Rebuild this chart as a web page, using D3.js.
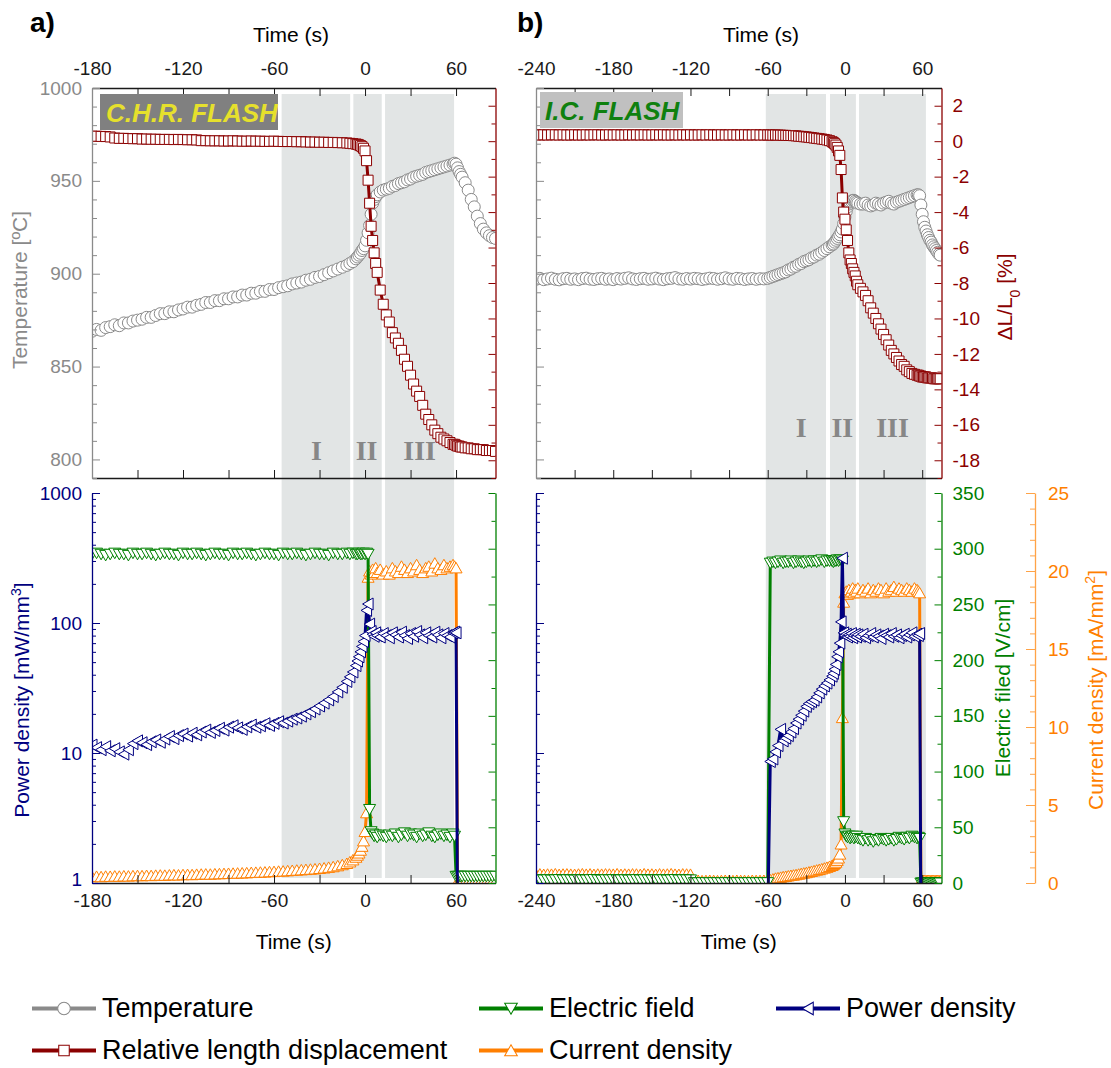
<!DOCTYPE html>
<html>
<head>
<meta charset="utf-8">
<script src="https://cdn.jsdelivr.net/npm/d3@7"></script>
<style>
  body { margin: 0; background: #fff; }
</style>
</head>
<body>
<div id="chart"></div>
<script>
///////////////////////////
// DATA
///////////////////////////

// panel a) C.H.R. flash - sample times (s)
const tA = [
    -180, -177, -174, -171, -168, -165, -162, -159, -156, -153,
    -150, -147, -144, -141, -138, -135, -132, -129, -126, -123,
    -120, -117, -114, -111, -108, -105, -102, -99, -96, -93,
    -90, -87, -84, -81, -78, -75, -72, -69, -66, -63,
    -60, -57, -54, -51, -48, -45, -42, -39, -36, -33,
    -30, -27, -24, -21, -18, -15, -12,
    -10, -8, -6, -5, -4, -3, -2, -1, 0, 1, 2, 3, 4, 5, 6, 7, 8, 10, 12,
    14, 16, 18, 20, 22, 24, 26, 28, 30, 32, 34, 36, 38, 40, 42, 44, 46, 48, 50, 52, 54, 56, 58,
    59, 60, 61, 62, 63, 64, 66, 68, 70, 72, 74, 76, 78, 80, 82, 84, 86
];
const tempA = [
    869, 870, 869.5, 871, 871.5, 872.5, 872, 873.5, 873.5, 874.5,
    875, 875.5, 876.5, 876.5, 877.5, 878.5, 878.5, 879.5, 879.5, 880.5,
    881, 882, 882, 883, 883.5, 884.5, 884.5, 885.5, 885.5, 886.5,
    886.5, 887.5, 887.5, 888.5, 888.5, 889.5, 889.5, 890.5, 890.5, 891.5,
    891.5, 892.5, 893, 893.5, 894.5, 895, 895.5, 896.5, 897, 898,
    898.5, 899.5, 900.5, 901.5, 902.5, 903.5, 904.5,
    905.5, 906.5, 908, 909, 910, 911, 912.5, 913.5, 915, 918, 922, 926, 932, 938, 940, 941.5, 942.5, 944, 945,
    945.5, 946, 947, 947.5, 948.5, 949, 949.5, 950.5, 951, 952, 952.5, 953, 953.5, 954.5, 955, 955.5, 956, 956.5, 957, 957.5, 958, 958.5, 959,
    959.5, 959, 957, 955, 953.5, 952, 949, 945, 940, 936, 931, 927, 924, 922, 920.5, 919.5, 919
];
const dlA = [
    0.28, 0.28, 0.27, 0.26, 0.24, 0.18, 0.16, 0.16, 0.15, 0.14,
    0.14, 0.12, 0.12, 0.11, 0.11, 0.1, 0.1, 0.1, 0.09, 0.1,
    0.09, 0.08, 0.08, 0.07, 0.03, 0.03, 0.02, 0.02, 0.02, 0.01,
    0.01, 0.02, 0.01, 0, 0, 0.01, 0, 0, -0.01, -0.01,
    0, -0.01, -0.02, -0.02, -0.02, -0.03, -0.03, -0.04, -0.05, -0.05,
    -0.06, -0.06, -0.07, -0.07, -0.08, -0.09, -0.1,
    -0.12, -0.14, -0.16, -0.18, -0.21, -0.25, -0.31, -0.4, -0.55, -1.1, -2.2, -3.5, -4.8, -5.6, -6.3, -6.9, -7.4, -8.4, -9.2,
    -9.8, -10.2, -10.8, -11.1, -11.4, -11.8, -12.3, -12.7, -13.2, -13.7, -14.1, -14.4, -14.9, -15.4, -15.7, -16.0, -16.3, -16.5, -16.7, -16.8, -16.9, -17.0, -17.1,
    -17.1, -17.15, -17.2, -17.2, -17.25, -17.25, -17.3, -17.3, -17.35, -17.35, -17.4, -17.4, -17.4, -17.45, -17.45, -17.45, -17.5
];
const powA = [
    11.5, 11.0, 10.6, 11.2, 10.4, 10.8, 10.2, 9.8, 10.6, 11.8,
    12.4, 12.0, 11.6, 12.2, 12.6, 12.1, 12.8, 13.4, 12.9, 13.6,
    14.0, 13.5, 14.2, 13.8, 14.5, 15.0, 14.4, 14.9, 15.5, 15.0,
    15.8, 16.2, 15.6, 15.2, 15.9, 16.4, 15.8, 16.2, 16.8, 16.3,
    16.9, 17.4, 17.0, 17.6, 18.2, 18.6, 19.2, 20.0, 20.8, 21.8,
    23.0, 24.2, 25.6, 27.2, 29.5, 32.0, 35.5,
    38.5, 42, 47, 51, 55, 60, 66, 72, 80, 125, 140, 98, 86, 82, 79, 84, 80, 78, 83,
    80, 77, 84, 81, 78, 85, 80, 76, 83, 79, 86, 81, 77, 84, 80, 78, 85, 81, 77, 83, 80, 78, 84,
    85, 84, 0.5, 0.5, 0.5, 0.5, 0.5, 0.5, 0.5, 0.5, 0.5, 0.5, 0.5, 0.5, 0.5, 0.5, 0.5
];
const efA = [
    295, 296, 295, 294, 295, 296, 295, 295, 294, 296,
    295, 295, 296, 295, 294, 295, 296, 295, 295, 294,
    296, 295, 295, 296, 295, 294, 295, 296, 295, 295,
    294, 296, 295, 295, 296, 295, 294, 295, 296, 295,
    295, 294, 296, 295, 295, 296, 295, 294, 295, 296,
    295, 295, 294, 296, 295, 295, 296,
    295, 296, 295, 295, 296, 295, 295, 296, 295, 296, 295, 66, 46, 44, 42, 43, 41, 43, 42,
    41, 43, 42, 44, 41, 43, 45, 42, 44, 43, 41, 44, 42, 43, 45, 42, 41, 43, 44, 42, 43, 41, 44,
    42, 6, 6, 6, 6, 6, 6, 6, 6, 6, 6, 6, 6, 6, 6, 6, 6
];
const cdA = [
    0.40, 0.42, 0.40, 0.43, 0.42, 0.44, 0.43, 0.45, 0.44, 0.46,
    0.47, 0.46, 0.48, 0.47, 0.49, 0.50, 0.49, 0.51, 0.52, 0.51,
    0.53, 0.54, 0.53, 0.55, 0.56, 0.57, 0.56, 0.58, 0.59, 0.60,
    0.61, 0.62, 0.63, 0.64, 0.65, 0.67, 0.68, 0.69, 0.70, 0.72,
    0.73, 0.75, 0.76, 0.78, 0.80, 0.82, 0.84, 0.86, 0.88, 0.90,
    0.93, 0.96, 1.00, 1.04, 1.10, 1.17, 1.25,
    1.35, 1.48, 1.65, 1.78, 1.92, 2.10, 2.35, 2.70, 3.30, 4.50, 19.6, 20.0, 19.8, 20.1, 19.9, 20.2, 19.9, 20.1, 19.8,
    20.0, 19.8, 20.2, 20.0, 19.9, 20.3, 20.1, 19.9, 20.2, 20.0, 20.4, 20.1, 19.9, 20.2, 20.3, 20.0, 20.5, 20.2, 20.1, 20.4, 20.2, 20.3, 20.4,
    20.3, 20.2, 0.1, 0.1, 0.1, 0.1, 0.1, 0.1, 0.1, 0.1, 0.1, 0.1, 0.1, 0.1, 0.1, 0.1, 0.1
];

// panel b) I.C. flash - sample times (s)
const tB = [
    -240, -237, -234, -231, -228, -225, -222, -219, -216, -213,
    -210, -207, -204, -201, -198, -195, -192, -189, -186, -183,
    -180, -177, -174, -171, -168, -165, -162, -159, -156, -153,
    -150, -147, -144, -141, -138, -135, -132, -129, -126, -123,
    -120, -117, -114, -111, -108, -105, -102, -99, -96, -93,
    -90, -87, -84, -81, -78, -75, -72, -69, -66, -63,
    -60, -58, -56, -54, -52, -50, -48, -46, -44, -42, -40, -38, -36, -34, -32, -30, -28, -26, -24, -22, -20, -18, -16, -14, -12,
    -10, -9, -8, -7, -6, -5, -4, -3, -2, -1, 0, 1, 2, 3, 4, 5, 6, 7, 8, 9, 10,
    12, 14, 16, 18, 20, 22, 24, 26, 28, 30, 32, 34, 36, 38, 40, 42, 44, 46, 48, 50, 52, 54, 56,
    57, 58, 59, 60, 61, 62, 63, 64, 65, 66, 67, 68, 69, 70, 71, 72, 73, 74
];
const tempB = [
    897, 897.5, 896.8, 897.2, 897.6, 897, 896.7, 897.3, 897.5, 897,
    897.2, 896.8, 897.4, 897.6, 897.1, 896.9, 897.3, 897.5, 897, 897.2,
    896.8, 897.4, 897.1, 897.5, 897.8, 897.2, 896.9, 897.3, 897.5, 897,
    897.2, 897.6, 897.1, 896.8, 897.3, 897.5, 897.9, 897.2, 897, 897.4,
    897.1, 897.5, 897.3, 896.9, 897.2, 897.6, 897.4, 897, 897.3, 897.8,
    897.2, 897, 897.5, 897.3, 896.9, 897.2, 897.4, 897, 897.3, 897.2,
    897.5, 898, 898.5, 899, 899.5, 900, 900.5, 901, 902, 902.5, 903.5, 904, 905, 905.5, 906.5, 907, 907.5, 908.5, 909, 910, 910.5, 911.5, 912.5, 913.5, 914.5,
    915.5, 916, 917, 918, 919, 920, 921, 922.5, 924, 927, 930.5, 933.5, 936, 937.5, 938.5, 939, 939.5, 939.5, 939, 938.5, 938,
    937.5, 937.5, 938, 937, 936.5, 937, 938, 937.5, 937, 938, 938.5, 939, 938, 937.5, 938.5, 939, 939.5, 940, 940.5, 941, 941.5, 942, 942.5,
    942.5, 942, 937, 932, 928, 925, 923, 921, 919.5, 918, 917, 915.5, 914.5, 913.5, 912.5, 911.5, 910.5, 910
];
const dlB = [
    0.36, 0.35, 0.36, 0.35, 0.36, 0.36, 0.35, 0.36, 0.35, 0.35,
    0.36, 0.35, 0.35, 0.36, 0.35, 0.36, 0.36, 0.35, 0.35, 0.36,
    0.35, 0.36, 0.35, 0.35, 0.36, 0.35, 0.36, 0.35, 0.36, 0.35,
    0.35, 0.36, 0.35, 0.36, 0.35, 0.35, 0.36, 0.35, 0.36, 0.35,
    0.36, 0.35, 0.35, 0.36, 0.35, 0.36, 0.35, 0.35, 0.36, 0.35,
    0.35, 0.36, 0.35, 0.35, 0.36, 0.35, 0.35, 0.36, 0.35, 0.35,
    0.35, 0.35, 0.34, 0.35, 0.34, 0.34, 0.33, 0.33, 0.32, 0.32, 0.31, 0.3, 0.28, 0.27, 0.25, 0.24, 0.22, 0.2, 0.18, 0.16, 0.14, 0.12, 0.1, 0.07, 0.03,
    -0.03, -0.08, -0.14, -0.22, -0.35, -0.55, -0.8, -1.6, -3.2, -4.0, -4.4, -5.0, -5.6, -6.3, -6.7, -6.9, -7.2, -7.4, -7.6, -7.9, -8.1,
    -8.3, -8.5, -8.7, -9.0, -9.4, -9.7, -10.0, -10.3, -10.6, -10.9, -11.2, -11.5, -11.8, -12.0, -12.2, -12.4, -12.6, -12.7, -12.9, -13.0, -13.1, -13.15, -13.2,
    -13.2, -13.25, -13.25, -13.3, -13.3, -13.3, -13.3, -13.35, -13.35, -13.35, -13.35, -13.35, -13.4, -13.4, -13.4, -13.4, -13.4, -13.4
];
const powB = [
    0.5, 0.5, 0.5, 0.5, 0.5, 0.5, 0.5, 0.5, 0.5, 0.5,
    0.5, 0.5, 0.5, 0.5, 0.5, 0.5, 0.5, 0.5, 0.5, 0.5,
    0.5, 0.5, 0.5, 0.5, 0.5, 0.5, 0.5, 0.5, 0.5, 0.5,
    0.5, 0.5, 0.5, 0.5, 0.5, 0.5, 0.5, 0.5, 0.5, 0.5,
    0.5, 0.5, 0.5, 0.5, 0.5, 0.5, 0.5, 0.5, 0.5, 0.5,
    0.5, 0.5, 0.5, 0.5, 0.5, 0.5, 0.5, 0.5, 0.5, 0.5,
    0.5, 8.6, 9.0, 10.2, 11.4, 15.2, 12.4, 13.0, 13.6, 14.5, 15.4, 17.0, 18.2, 19.5, 21.0, 22.8, 24.0, 24.8, 25.5, 27.0, 29.0, 31.0, 32.8, 34.5, 36.5,
    39, 41, 44, 48, 55, 60, 70, 102, 315, 84, 80, 82, 78, 81, 79, 83, 77, 80, 82, 78, 81,
    79, 82, 77, 80, 83, 78, 81, 79, 76, 82, 80, 78, 83, 79, 81, 77, 80, 82, 78, 81, 84, 79, 82,
    80, 83, 0.5, 0.5, 0.5, 0.5, 0.5, 0.5, 0.5, 0.5, 0.5, 0.5, 0.5, 0.5, 0.5, 0.5, 0.5, 0.5
];
const efB = [
    2.8, 3.0, 2.7, 2.9, 2.6, 2.8, 3.1, 2.7, 2.9, 2.8,
    2.6, 3.0, 2.8, 2.7, 2.9, 3.1, 2.8, 2.6, 2.9, 2.8,
    3.0, 2.7, 2.8, 2.9, 2.6, 2.8, 3.0, 2.7, 2.9, 2.8,
    2.7, 3.0, 2.8, 2.9, 2.6, 2.8, 3.1, 2.7, 2.9, 2.8,
    2.8, 0.3, 0.2, 0.3, 0.3, 0.2, 0.3, 0.3, 0.2, 0.3,
    0.3, 0.2, 0.3, 0.3, 0.2, 0.3, 0.3, 0.2, 0.3, 0.3,
    0.3, 287, 288, 287, 288, 289, 287, 288, 288, 289, 287, 288, 289, 288, 287, 288, 289, 288, 289, 288, 289, 290, 288, 289, 289,
    289, 288, 289, 289, 290, 289, 290, 290, 289, 55, 44, 42, 41, 42, 40, 41, 42, 40, 41, 42, 40,
    39, 38, 40, 38, 39, 37, 39, 38, 40, 39, 38, 39, 40, 38, 39, 41, 40, 39, 41, 40, 42, 41, 40,
    41, 40, 0, 0, 0, 0, 0, 0, 0, 0, 0, 0, 0, 0, 0, 0, 0, 0
];
const cdB = [
    0.55, 0.57, 0.54, 0.56, 0.55, 0.58, 0.54, 0.56, 0.57, 0.55,
    0.54, 0.56, 0.58, 0.55, 0.57, 0.54, 0.56, 0.55, 0.57, 0.56,
    0.55, 0.58, 0.54, 0.56, 0.55, 0.57, 0.56, 0.54, 0.58, 0.55,
    0.56, 0.54, 0.57, 0.55, 0.56, 0.58, 0.55, 0.54, 0.57, 0.56,
    0.55, 0.15, 0.16, 0.14, 0.15, 0.16, 0.15, 0.14, 0.15, 0.16,
    0.15, 0.14, 0.16, 0.15, 0.15, 0.14, 0.16, 0.15, 0.15, 0.16,
    0.15, 0.2, 0.25, 0.3, 0.33, 0.36, 0.4, 0.42, 0.45, 0.48, 0.5, 0.53, 0.56, 0.6, 0.63, 0.66, 0.7, 0.74, 0.78, 0.82, 0.86, 0.9, 0.95, 1.0, 1.06,
    1.12, 1.18, 1.25, 1.33, 1.45, 1.6, 1.85, 2.5, 10.6, 18.0, 18.6, 18.7, 18.5, 18.8, 18.6, 18.7, 18.9, 18.6, 18.8, 18.7, 18.9,
    18.6, 18.8, 18.7, 18.9, 18.6, 18.8, 18.7, 18.9, 18.8, 18.6, 18.9, 18.7, 18.8, 19.0, 18.7, 18.9, 18.8, 18.7, 18.9, 18.8, 18.7, 18.9, 18.8,
    18.7, 18.6, 0.15, 0.15, 0.15, 0.15, 0.15, 0.15, 0.15, 0.15, 0.15, 0.15, 0.15, 0.15, 0.15, 0.15, 0.15, 0.15
];

// stages I / II / III (time intervals, s) and where their numerals sit
const regionNames = ['I', 'II', 'III'];
const regionsA = [[-55, -9.8], [-7.7, 11], [13.2, 58.7]];
const regionsB = [[-61.5, -14.7], [-11.6, 8.5], [10.9, 62.9]];
const regionLabelA = [-32, 1, 36];
const regionLabelB = [-34, -2, 37];

// axis ticks
const timeTicksA = [-180, -120, -60, 0, 60];
const timeTicksB = [-240, -180, -120, -60, 0, 60];
const tempTicks = [800, 850, 900, 950, 1000];
const dlTicks = [-18, -16, -14, -12, -10, -8, -6, -4, -2, 0, 2];
const powTicks = [1, 10, 100, 1000];
const efTicks = [0, 50, 100, 150, 200, 250, 300, 350];
const cdTicks = [0, 5, 10, 15, 20, 25];

const legendNames = ['Temperature', 'Relative length displacement', 'Electric field', 'Current density', 'Power density'];

///////////////////////////
// SETUP
///////////////////////////

const FONT = '"Liberation Sans", Arial, Helvetica, sans-serif';
const col = {
    gray: '#8a8a8a', red: '#8b0000', navy: '#000080', green: '#008000',
    orange: '#ff7f00', orangeAxis: '#ffa347', shade: '#e2e5e5', black: '#1a1a1a'
};

const svg = d3.select('#chart')
    .append('svg')
    .attr('width', 1111)
    .attr('height', 1068);
const defs = svg.append('defs');

const yTemp = d3.scaleLinear().domain([790, 1000]).range([478, 88]);
const yDl = d3.scaleLinear().domain([-19, 3]).range([478, 88]);
const yPow = d3.scaleLog().domain([1, 1000]).range([883, 493]);
const yEf = d3.scaleLinear().domain([0, 350]).range([883, 493]);
const yCd = d3.scaleLinear().domain([0, 25]).range([883, 493]);

const shapes = {
    circle: 'M6,0A6,6 0 1,1 -6,0A6,6 0 1,1 6,0Z',
    square: 'M-5,-5H5V5H-5Z',
    down: 'M-6,-5H6L0,5.5Z',
    up: 'M-6,5H6L0,-5.5Z',
    left: 'M-5.5,0L5,-6V6Z'
};

// plain hyphen for negatives, no thousands separator
const plain = (d) => String(d);

const drawSeries = (g, t, v, x, y, color, shape) => {
    const pts = d3.zip(t, v);
    g.append('path')
        .datum(pts)
        .attr('fill', 'none')
        .attr('stroke', color)
        .attr('stroke-width', 3)
        .attr('d', d3.line().x((d) => x(d[0])).y((d) => y(d[1])));
    g.append('g')
        .selectAll('path')
        .data(pts)
        .enter().append('path')
        .attr('transform', (d) => `translate(${x(d[0])},${y(d[1])})`)
        .attr('d', shape)
        .attr('fill', '#fff')
        .attr('stroke', color)
        .attr('stroke-width', 1);
}

const drawAxis = (gen, transform, color, fontSize, minor) => {
    const g = svg.append('g').attr('transform', transform).call(gen);
    g.attr('color', color).attr('font-family', FONT).attr('font-size', fontSize);
    g.select('.domain').attr('stroke-width', 1.3);
    if (minor) g.select('.domain').remove();
    return g;
}

const noLabel = () => '';

///////////////////////////
// PANELS
///////////////////////////

const panels = [
    {
        key: 'a', t: tA, temp: tempA, dl: dlA, pow: powA, ef: efA, cd: cdA,
        x: d3.scaleLinear().domain([-180, 86]).range([92, 495.5]),
        ticks: timeTicksA, regions: regionsA, regionLabel: regionLabelA, romanY: 460,
        left: true
    },
    {
        key: 'b', t: tB, temp: tempB, dl: dlB, pow: powB, ef: efB, cd: cdB,
        x: d3.scaleLinear().domain([-240, 75]).range([536, 941.5]),
        ticks: timeTicksB, regions: regionsB, regionLabel: regionLabelB, romanY: 437,
        left: false
    }
];

panels.forEach((p) => {
    const x = p.x;
    const [x0, x1] = x.range();
    const minorTime = d3.range(x.domain()[0] + 30, x.domain()[1], 60);

    // shaded stages, running through both plots
    svg.append('g')
        .selectAll('rect')
        .data(p.regions)
        .enter().append('rect')
        .attr('x', (d) => x(d[0]))
        .attr('width', (d) => x(d[1]) - x(d[0]))
        .attr('y', 94)
        .attr('height', 878 - 94)
        .style('fill', col.shade);

    svg.append('g')
        .selectAll('text')
        .data(regionNames)
        .enter().append('text')
        .attr('x', (d, i) => x(p.regionLabel[i]))
        .attr('y', p.romanY)
        .attr('text-anchor', 'middle')
        .attr('font-family', '"Liberation Serif", "Times New Roman", serif')
        .attr('font-weight', 'bold')
        .attr('font-size', 28)
        .style('fill', '#878787')
        .text((d) => d);

    // clip areas
    defs.append('clipPath').attr('id', `top-${p.key}`)
        .append('rect').attr('x', x0).attr('y', 88).attr('width', x1 - x0).attr('height', 390);
    defs.append('clipPath').attr('id', `bot-${p.key}`)
        .append('rect').attr('x', x0).attr('y', 493).attr('width', x1 - x0).attr('height', 390);

    const top = svg.append('g').attr('clip-path', `url(#top-${p.key})`);
    drawSeries(top, p.t, p.temp, x, yTemp, col.gray, shapes.circle);
    drawSeries(top, p.t, p.dl, x, yDl, col.red, shapes.square);

    const bot = svg.append('g').attr('clip-path', `url(#bot-${p.key})`);
    drawSeries(bot, p.t, p.cd, x, yCd, col.orange, shapes.up);
    drawSeries(bot, p.t, p.ef, x, yEf, col.green, shapes.down);
    drawSeries(bot, p.t, p.pow, x, yPow, col.navy, shapes.left);

    // time axes
    drawAxis(d3.axisTop(x).tickValues(p.ticks).tickSize(-8).tickSizeOuter(0).tickPadding(13).tickFormat(plain),
        'translate(0,88)', col.black, 19);
    drawAxis(d3.axisTop(x).tickValues(minorTime).tickSize(-8).tickFormat(noLabel),
        'translate(0,88)', col.black, 19, true);
    drawAxis(d3.axisBottom(x).tickValues(p.ticks.concat(minorTime)).tickSize(-8).tickSizeOuter(0).tickFormat(noLabel),
        'translate(0,478)', col.black, 19);
    drawAxis(d3.axisBottom(x).tickValues(p.ticks).tickSize(-8).tickSizeOuter(0).tickPadding(11).tickFormat(plain),
        'translate(0,883)', col.black, 19);
    drawAxis(d3.axisBottom(x).tickValues(minorTime).tickSize(-8).tickFormat(noLabel),
        'translate(0,883)', col.black, 19, true);

    // temperature (left, top)
    const tempGen = d3.axisLeft(yTemp).tickValues(tempTicks).tickSize(-8).tickSizeOuter(0).tickPadding(10)
        .tickFormat(p.left ? plain : noLabel);
    drawAxis(tempGen, `translate(${x0},0)`, col.gray, 19);
    drawAxis(d3.axisLeft(yTemp).tickValues(d3.range(790, 1000, 10).filter((v) => v % 50)).tickSize(-5).tickFormat(noLabel),
        `translate(${x0},0)`, col.gray, 19, true);

    // length change (right, top)
    const dlGen = d3.axisRight(yDl).tickValues(dlTicks).tickSize(-7).tickSizeOuter(0).tickPadding(11)
        .tickFormat(p.left ? noLabel : plain);
    drawAxis(dlGen, `translate(${x1},0)`, col.red, 19);
    drawAxis(d3.axisRight(yDl).tickValues(d3.range(-19, 3, 2)).tickSize(-4).tickFormat(noLabel),
        `translate(${x1},0)`, col.red, 19, true);

    // power density (left, bottom)
    const powGen = d3.axisLeft(yPow).tickValues(powTicks).tickSize(-8).tickSizeOuter(0).tickPadding(10)
        .tickFormat(p.left ? plain : noLabel);
    const powAxis = drawAxis(powGen, `translate(${x0},0)`, col.navy, 19);
    // lowest label sits just above the time labels
    powAxis.selectAll('.tick text').filter((d) => d === 1).attr('dy', '0.12em');
    const powMinor = [1, 10, 100].flatMap((d) => d3.range(2, 10).map((m) => d * m));
    drawAxis(d3.axisLeft(yPow).tickValues(powMinor).tickSize(-4).tickFormat(noLabel),
        `translate(${x0},0)`, col.navy, 19, true);

    // electric field (right, bottom)
    const efGen = d3.axisRight(yEf).tickValues(efTicks).tickSize(-7).tickSizeOuter(0).tickPadding(11)
        .tickFormat(p.left ? noLabel : plain);
    drawAxis(efGen, `translate(${x1},0)`, col.green, 19);
    drawAxis(d3.axisRight(yEf).tickValues(d3.range(25, 350, 50)).tickSize(-4).tickFormat(noLabel),
        `translate(${x1},0)`, col.green, 19, true);

    // axis titles for time
    svg.append('text')
        .attr('x', p.left ? 291 : 761).attr('y', 42)
        .attr('text-anchor', 'middle').attr('font-family', FONT).attr('font-size', 21)
        .text('Time (s)');
    svg.append('text')
        .attr('x', (x0 + x1) / 2).attr('y', 949)
        .attr('text-anchor', 'middle').attr('font-family', FONT).attr('font-size', 21)
        .text('Time (s)');

    svg.append('text')
        .attr('x', p.left ? 30 : 517).attr('y', 32)
        .attr('font-family', FONT).attr('font-size', 28).attr('font-weight', 'bold')
        .text(p.key + ')');
});

// current density axis (b only)
drawAxis(d3.axisRight(yCd).tickValues(cdTicks).tickSize(-9).tickSizeOuter(0).tickPadding(13).tickFormat(plain),
    'translate(1035,0)', col.orangeAxis, 19).selectAll('text').style('fill', col.orange);
drawAxis(d3.axisRight(yCd).tickValues(d3.range(1, 25).filter((v) => v % 5)).tickSize(-5).tickFormat(noLabel),
    'translate(1035,0)', col.orangeAxis, 19, true);

///////////////////////////
// TITLES & TAGS
///////////////////////////

const vTitle = (xPos, yPos, color, parts) => {
    const t = svg.append('text')
        .attr('transform', `translate(${xPos},${yPos}) rotate(-90)`)
        .attr('text-anchor', 'middle')
        .attr('dy', '0.35em')
        .attr('font-family', FONT)
        .attr('font-size', 21)
        .style('fill', color);
    parts.forEach((d) => {
        const s = t.append('tspan').text(d.text);
        if (d.shift) s.attr('baseline-shift', d.shift).attr('font-size', 14);
    });
}

vTitle(20, 290, col.gray, [{ text: 'Temperature [ºC]' }]);
vTitle(22, 700, col.navy, [{ text: 'Power density [mW/mm' }, { text: '3', shift: 'super' }, { text: ']' }]);
vTitle(1005, 297, col.red, [{ text: 'ΔL/L' }, { text: '0', shift: 'sub' }, { text: ' [%]' }]);
vTitle(1003, 688, col.green, [{ text: 'Electric filed [V/cm]' }]);
vTitle(1096, 690, col.orange, [{ text: 'Current density [mA/mm' }, { text: '2', shift: 'super' }, { text: ']' }]);

svg.append('rect').attr('x', 100).attr('y', 94).attr('width', 178).attr('height', 36).style('fill', '#808080');
svg.append('text').attr('x', 106).attr('y', 122)
    .attr('font-family', FONT).attr('font-size', 26).attr('font-weight', 'bold').attr('font-style', 'italic')
    .style('fill', '#e6e02c').text('C.H.R. FLASH');
svg.append('rect').attr('x', 540).attr('y', 92).attr('width', 143).attr('height', 36).style('fill', '#c0c0c0');
svg.append('text').attr('x', 545).attr('y', 120)
    .attr('font-family', FONT).attr('font-size', 26).attr('font-weight', 'bold').attr('font-style', 'italic')
    .style('fill', '#0f800f').text('I.C. FLASH');

///////////////////////////
// LEGEND
///////////////////////////

const legendItems = [
    { name: legendNames[0], color: col.gray, shape: shapes.circle, x: 32, y: 1017 },
    { name: legendNames[1], color: col.red, shape: shapes.square, x: 32, y: 1059 },
    { name: legendNames[2], color: col.green, shape: shapes.down, x: 479, y: 1017 },
    { name: legendNames[3], color: col.orange, shape: shapes.up, x: 479, y: 1059 },
    { name: legendNames[4], color: col.navy, shape: shapes.left, x: 776, y: 1017 }
];

const leg = svg.append('g')
    .selectAll('g')
    .data(legendItems)
    .enter().append('g')
    .attr('transform', (d) => `translate(${d.x},${d.y})`);

leg.append('line')
    .attr('x1', 0).attr('x2', 64).attr('y1', -8.5).attr('y2', -8.5)
    .attr('stroke', (d) => d.color).attr('stroke-width', 4);
leg.append('path')
    .attr('transform', 'translate(32,-8.5) scale(1.05)')
    .attr('d', (d) => d.shape)
    .attr('fill', '#fff')
    .attr('stroke', (d) => d.color)
    .attr('stroke-width', 1);
leg.append('text')
    .attr('x', 70)
    .attr('font-family', FONT)
    .attr('font-size', 27)
    .text((d) => d.name);
</script>
</body>
</html>
